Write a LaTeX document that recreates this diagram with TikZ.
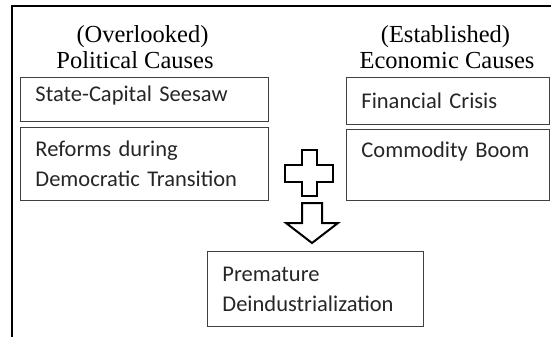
\documentclass[tikz,border=0pt]{standalone}
\usepackage{fontspec}
\usetikzlibrary{positioning}
\newfontfamily\boxfamily{Carlito}
\newfontfamily\headfamily{Liberation Serif}
\newcommand{\boxfont}{\boxfamily\fontsize{22.5}{30}\selectfont}
\newcommand{\headfont}{\headfamily\fontsize{24.5}{26}\selectfont}
\definecolor{xInk}{RGB}{38,38,38}
\definecolor{xEdge}{RGB}{64,64,64}
\tikzset{
  cause/.style={draw=xEdge, line width=0.9pt, anchor=north west, align=left, font=\boxfont,
                text=xInk, inner xsep=15pt, inner ysep=0pt},
  heading/.style={anchor=base, font=\headfont, text=black, inner sep=0pt},
  frame/.style={line width=2.4pt, line join=miter},
  block/.style={draw=black, line width=2pt, fill=white, line join=miter},
}

\begin{document}
\begin{tikzpicture}[x=1pt, y=-1pt]
    \useasboundingbox (0,0) rectangle (551,337);
    \draw[frame] (12,337) -- (12,6) -- (551,6);
    % headings
    \node[heading] (polA) at (142.5,43) {(Overlooked)};
    \node[heading] (polB) at (135,69)   {Political Causes};
    \node[heading] (ecoA) at (445.5,43) {(Established)};
    \node[heading] (ecoB) at (447,69)   {Economic Causes};
    % cause boxes
    \node[cause, text width=218pt, minimum height=44pt, text depth=11pt] (seesaw) at (20,77) {State-Capital Seesaw};
    \node[cause, text width=218pt, minimum height=73pt] (reform) at (20,127) {Reforms during\\Democratic Transition};
    \node[cause, text width=173pt, minimum height=47pt] (crisis) at (346,77)  {Financial Crisis};
    \node[cause, text width=173pt, minimum height=71pt] (boom)   at (346,129) {Commodity Boom\\\mbox{}};
    \node[cause, text width=186pt, minimum height=75pt] (deind)  at (207,251) {Premature\\Deindustrialization};
    % plus and block arrow
    \draw[block] (302,150) -- (317,150) -- (317,165) -- (333,165) -- (333,182) -- (317,182)
                 -- (317,196) -- (302,196) -- (302,182) -- (285,182) -- (285,165) -- (302,165) -- cycle;
    \draw[block] (302,203) -- (322,203) -- (322,223) -- (338,223) -- (312,243) -- (286,223)
                 -- (302,223) -- cycle;
  \end{tikzpicture}
\end{document}
